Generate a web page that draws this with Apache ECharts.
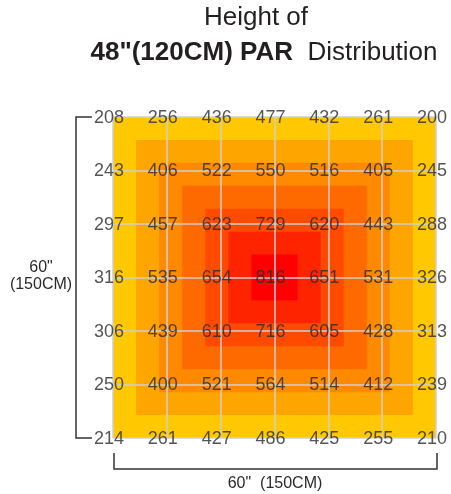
<!DOCTYPE html>
<html>
<head>
<meta charset="utf-8">
<script src="https://cdn.jsdelivr.net/npm/echarts@6/dist/echarts.min.js"></script>
<style>html,body{margin:0;padding:0;background:#fff}#c{width:451px;height:494px}</style>
</head>
<body>
<div id="c"></div>
<script>
// PAR readings, top row to bottom row
const row1 = [208, 256, 436, 477, 432, 261, 200];
const row2 = [243, 406, 522, 550, 516, 405, 245];
const row3 = [297, 457, 623, 729, 620, 443, 288];
const row4 = [316, 535, 654, 816, 651, 531, 326];
const row5 = [306, 439, 610, 716, 605, 428, 313];
const row6 = [250, 400, 521, 564, 514, 412, 239];
const row7 = [214, 261, 427, 486, 425, 255, 210];
// concentric intensity zones, outermost to centre
const zoneLevels = [0, 1, 2, 3, 4, 5, 6];
const zoneColors = ['#FFC800', '#FFA500', '#FF8A00', '#FF6A00', '#FF4A00', '#FF2400', '#FF0000'];

const rows = [row1, row2, row3, row4, row5, row6, row7];
const labelData = [];
rows.forEach((r, ri) => r.forEach((v, ci) => labelData.push([ci, ri, v])));

const FONT = '"Liberation Sans", Arial, Helvetica, sans-serif';
const chart = echarts.init(document.getElementById('c'));
const nZones = zoneLevels.length;

chart.setOption({
  animation: false,
  backgroundColor: '#fff',
  grid: { left: 113, top: 117, width: 323, height: 321 },
  xAxis: {
    type: 'value', min: 0, max: 6, interval: 1,
    axisLine: { show: false }, axisTick: { show: false }, axisLabel: { show: false },
    splitLine: { show: true, lineStyle: { color: '#cfcfcf', width: 1.5 } }
  },
  yAxis: {
    type: 'value', min: 0, max: 6, interval: 1, inverse: true,
    axisLine: { show: false }, axisTick: { show: false }, axisLabel: { show: false },
    splitLine: { show: true, lineStyle: { color: '#cfcfcf', width: 1.5 } }
  },
  series: [
    {
      type: 'custom',
      z: -1,
      silent: true,
      data: zoneLevels,
      renderItem: function (params, api) {
        const k = api.value(0);
        const half = 3 * (nZones - k) / nZones;
        const p0 = api.coord([3 - half, 3 - half]);
        const p1 = api.coord([3 + half, 3 + half]);
        return {
          type: 'rect',
          shape: { x: p0[0], y: p0[1], width: p1[0] - p0[0], height: p1[1] - p0[1] },
          style: { fill: zoneColors[k] }
        };
      }
    },
    {
      type: 'scatter',
      z: 5,
      symbolSize: 0,
      data: labelData,
      label: {
        show: true, position: 'inside', offset: [-4, 1],
        formatter: p => String(p.value[2]),
        fontSize: 18, color: '#2a2a2a', fontFamily: FONT
      }
    }
  ],
  graphic: [
    { type: 'text', x: 256, y: 18, style: { text: 'Height of', font: '26px ' + FONT, fill: '#231f20', textAlign: 'center', textVerticalAlign: 'middle' } },
    { type: 'text', x: 264, y: 53, style: {
        text: '{b|48"(120CM) PAR}{r|  Distribution}',
        textAlign: 'center', textVerticalAlign: 'middle',
        rich: {
          b: { fontSize: 26, fontWeight: 'bold', fontFamily: FONT, fill: '#231f20' },
          r: { fontSize: 26, fontFamily: FONT, fill: '#231f20' }
        }
    } },
    { type: 'polyline', shape: { points: [[92, 117], [76, 117], [76, 438], [92, 438]] }, style: { stroke: '#333', lineWidth: 1.5, fill: null } },
    { type: 'polyline', shape: { points: [[114, 453], [114, 469], [437, 469], [437, 453]] }, style: { stroke: '#333', lineWidth: 1.5, fill: null } },
    { type: 'text', x: 41, y: 268, style: { text: '60"', font: '16px ' + FONT, fill: '#2a2a2a', textAlign: 'center', textVerticalAlign: 'middle' } },
    { type: 'text', x: 41, y: 285, style: { text: '(150CM)', font: '16px ' + FONT, fill: '#2a2a2a', textAlign: 'center', textVerticalAlign: 'middle' } },
    { type: 'text', x: 275, y: 484, style: { text: '60"  (150CM)', font: '16px ' + FONT, fill: '#2a2a2a', textAlign: 'center', textVerticalAlign: 'middle' } }
  ]
});
</script>
</body>
</html>
